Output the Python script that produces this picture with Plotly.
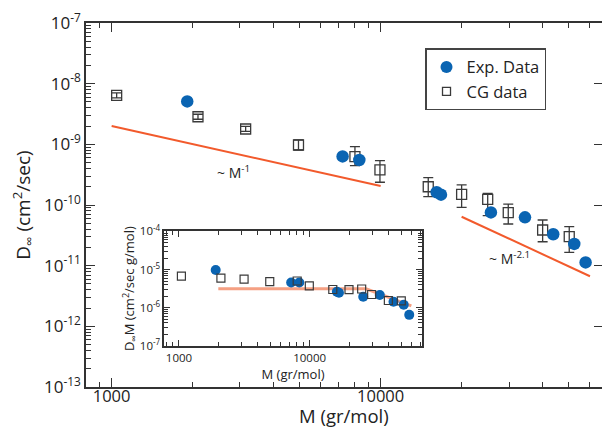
import numpy as np
import plotly.graph_objects as go

# ---- data -------------------------------------------------------------
# experimental diffusion coefficients
exp_M = [1910, 7220, 8330, 16150, 16760, 25700, 34400, 43800, 52450, 57800]
exp_D = [5.10e-9, 6.33e-10, 5.52e-10, 1.62e-10, 1.48e-10, 7.55e-11,
         6.27e-11, 3.29e-11, 2.28e-11, 1.13e-11]

# coarse-grained simulation results with error ranges
cg_M = [1044, 2094, 3149, 4950, 8025, 9940, 15030, 20000, 25000, 29810,
        40010, 50240]
cg_D = [6.41e-9, 2.85e-9, 1.79e-9, 9.75e-10, 6.25e-10, 3.78e-10, 2.00e-10,
        1.50e-10, 1.24e-10, 7.47e-11, 3.87e-11, 3.00e-11]
cg_hi = [7.05e-9, 3.13e-9, 1.97e-9, 1.18e-9, 9.14e-10, 5.37e-10, 2.82e-10,
         2.14e-10, 1.56e-10, 1.03e-10, 5.66e-11, 4.39e-11]
cg_lo = [5.83e-9, 2.59e-9, 1.63e-9, 8.06e-10, 4.45e-10, 2.37e-10, 1.37e-10,
         9.17e-11, 6.66e-11, 4.86e-11, 2.48e-11, 1.66e-11]

# scaling guides
rouse_M = [1000, 10000]
rouse_D = [2.0e-9, 2.05e-10]
rep_M = [20000, 60000]
rep_D = [6.41e-11, 6.7e-12]
inset_guide_M = [2000, 27000, 60000]
inset_guide_DM = [3.15e-6, 3.15e-6, 1.12e-6]

# tick labels
main_y_ticks = [1e-13, 1e-12, 1e-11, 1e-10, 1e-9, 1e-8, 1e-7]
main_y_text = ["10<sup>-13</sup>", "10<sup>-12</sup>", "10<sup>-11</sup>",
               "10<sup>-10</sup>", "10<sup>-9</sup>", "10<sup>-8</sup>",
               "10<sup>-7</sup>"]
x_ticks = [1000, 10000]
x_text = ["1000", "10000"]
inset_y_ticks = [1e-7, 1e-6, 1e-5, 1e-4]
inset_y_text = ["10<sup>-7</sup>", "10<sup>-6</sup>", "10<sup>-5</sup>",
                "10<sup>-4</sup>"]

# ---- derived quantities --------------------------------------------------
exp_DM = [d * m for d, m in zip(exp_D, exp_M)]
cg_DM = [d * m for d, m in zip(cg_D, cg_M)]
err_plus = [h - d for h, d in zip(cg_hi, cg_D)]
err_minus = [d - l for d, l in zip(cg_D, cg_lo)]


def minor_log(lo_exp, hi_exp):
    return [k * 10.0 ** e for e in range(lo_exp, hi_exp) for k in range(2, 10)]


FONT = "Open Sans"
AX = "#333333"
BLUE = "#0a64b2"
ORANGE = "#f25a2c"
SQ = "#3a3a3a"

fig = go.Figure()

# main panel
fig.add_trace(go.Scatter(x=rouse_M, y=rouse_D, mode="lines",
                         line=dict(color=ORANGE, width=2), showlegend=False))
fig.add_trace(go.Scatter(x=rep_M, y=rep_D, mode="lines",
                         line=dict(color=ORANGE, width=2), showlegend=False))
fig.add_trace(go.Scatter(
    x=cg_M, y=cg_D, mode="markers", showlegend=False,
    marker=dict(symbol="square-open", size=10, color=SQ,
                line=dict(width=1.3, color=SQ)),
    error_y=dict(type="data", symmetric=False, array=err_plus,
                 arrayminus=err_minus, color=SQ, thickness=1.3, width=5)))
fig.add_trace(go.Scatter(x=exp_M, y=exp_D, mode="markers", showlegend=False,
                         marker=dict(symbol="circle", size=12.5, color=BLUE)))

# legend entries
fig.add_trace(go.Scatter(x=[None], y=[None], mode="markers", name="Exp. Data",
                         marker=dict(symbol="circle", size=12, color=BLUE)))
fig.add_trace(go.Scatter(x=[None], y=[None], mode="markers", name="CG data",
                         marker=dict(symbol="square-open", size=8, color=SQ,
                                     line=dict(width=1.3, color=SQ))))

# carrier for the right-hand tick axis
fig.add_trace(go.Scatter(x=[None], y=[None], xaxis="x", yaxis="y3",
                         showlegend=False, hoverinfo="skip"))

# inset panel: D*M
fig.add_trace(go.Scatter(x=inset_guide_M, y=inset_guide_DM, mode="lines",
                         xaxis="x2", yaxis="y2", showlegend=False,
                         line=dict(color="#f5a083", width=3)))
fig.add_trace(go.Scatter(x=exp_M, y=exp_DM, mode="markers", xaxis="x2",
                         yaxis="y2", showlegend=False,
                         marker=dict(symbol="circle", size=10, color=BLUE)))
fig.add_trace(go.Scatter(x=cg_M, y=cg_DM, mode="markers", xaxis="x2",
                         yaxis="y2", showlegend=False,
                         marker=dict(symbol="square-open", size=8, color=SQ,
                                     line=dict(width=1.2, color=SQ))))

axis_common = dict(type="log", showgrid=False, zeroline=False, showline=True,
                   linecolor=AX, linewidth=1.5, ticks="inside", tickcolor=AX,
                   tickwidth=1.3)

fig.update_layout(
    width=602, height=428,
    margin=dict(l=86, r=0, t=23, b=41),
    paper_bgcolor="white", plot_bgcolor="white",
    font=dict(family=FONT, color="#222222"),
    xaxis=dict(**axis_common, range=[np.log10(803), np.log10(66500)],
               mirror="ticks", tickmode="array", tickvals=x_ticks,
               ticktext=x_text, ticklen=9, tickfont=dict(size=16.5),
               ticklabelposition="outside", ticklabelstandoff=-7,
               minor=dict(tickmode="array", tickvals=minor_log(2, 5),
                          ticks="inside", ticklen=5, tickcolor=AX,
                          tickwidth=1.2)),
    yaxis=dict(**axis_common, range=[-13, -7], mirror=False, tickmode="array",
               tickvals=main_y_ticks, ticktext=main_y_text, ticklen=9,
               tickfont=dict(size=17),
               minor=dict(tickmode="array", tickvals=minor_log(-13, -7),
                          ticks="inside", ticklen=5, tickcolor=AX,
                          tickwidth=1.2),
               title=dict(text="D<sub>\u221e</sub> (cm<sup>2</sup>/sec)",
                          font=dict(size=19), standoff=8)),
    yaxis3=dict(type="log", range=[-13, -7], overlaying="y", side="right",
                anchor="x", showgrid=False, zeroline=False, showline=False,
                tickmode="array", tickvals=main_y_ticks[1:-1], ticks="inside",
                ticklen=8, tickcolor=AX, tickwidth=1.3, showticklabels=False),
    xaxis2=dict(**axis_common, domain=[0.1517, 0.6506], anchor="y2",
                range=[np.log10(772), np.log10(72000)], mirror="ticks",
                tickmode="array", tickvals=x_ticks, ticktext=x_text,
                ticklen=6, tickfont=dict(size=11.5),
                minor=dict(tickmode="array", tickvals=minor_log(2, 5),
                           ticks="inside", ticklen=4, tickcolor=AX,
                           tickwidth=1.1),
                title=dict(text="M (gr/mol)", font=dict(size=13), standoff=0)),
    yaxis2=dict(**axis_common, domain=[0.1126, 0.4277], anchor="x2",
                range=[-7, -4], mirror="ticks", tickmode="array",
                tickvals=inset_y_ticks, ticktext=inset_y_text, ticklen=6,
                tickfont=dict(size=11.5),
                minor=dict(tickmode="array", tickvals=minor_log(-7, -4),
                           ticks="inside", ticklen=4, tickcolor=AX,
                           tickwidth=1.1),
                title=dict(text="D<sub>\u221e</sub>M (cm<sup>2</sup>/sec g/mol)",
                           font=dict(size=13), standoff=0)),
    legend=dict(x=0.657, y=0.9305, xanchor="left", yanchor="top",
                bgcolor="white", bordercolor="#444444", borderwidth=1.5,
                font=dict(size=16.5, family=FONT), tracegroupgap=0,
                itemsizing="trace"),
    annotations=[
        dict(x=0.5, y=(387 - 415) / 364, xref="paper", yref="paper",
             text="M (gr/mol)", showarrow=False, yanchor="middle",
             font=dict(size=18.5, family=FONT)),
        dict(x=np.log10(2850), y=np.log10(3.5e-10), xref="x", yref="y",
             text="~ M<sup>-1</sup>", showarrow=False,
             font=dict(size=14, family=FONT)),
        dict(x=np.log10(30100), y=np.log10(1.34e-11), xref="x", yref="y",
             text="~ M<sup>-2.1</sup>", showarrow=False,
             font=dict(size=14, family=FONT)),
    ],
)

fig.write_html("out.html")
